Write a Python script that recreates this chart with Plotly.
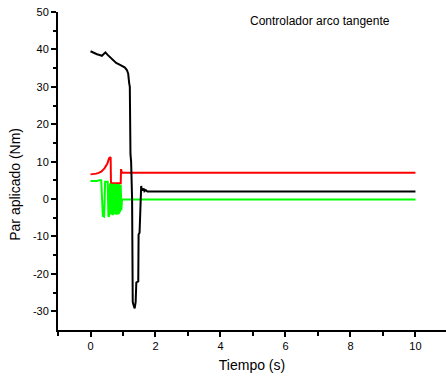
import plotly.graph_objects as go

# Black: applied torque (Nm)
t_black = [0, 0.1, 0.2, 0.28, 0.35, 0.4, 0.46, 0.52, 0.59, 0.65, 0.72, 0.79, 0.88, 0.95, 1.05,
           1.12, 1.16, 1.19, 1.21, 1.23, 1.25, 1.28, 1.30, 1.33, 1.36, 1.39, 1.41, 1.47,
           1.48, 1.51, 1.53, 1.56, 1.58, 1.6, 1.62, 1.64, 1.66, 1.7, 1.75, 10]
y_black = [39.5, 39.0, 38.7, 38.5, 38.3, 38.7, 39.2, 38.6, 38.0, 37.5, 37.0, 36.4, 36.0, 35.6, 35.2,
           34.5, 33.5, 31.0, 30.0, 12.0, 10.0, 0.0, -27.5, -28.5, -29.2, -27.5, -22.3, -22.0,
           -9.5, -9.0, 0.0, 3.5, 2.4, 2.9, 2.2, 2.8, 2.1, 2.4, 2.0, 2.0]

# Red
t_red = [0, 0.12, 0.18, 0.25, 0.33, 0.43, 0.52, 0.57, 0.6, 0.62, 0.63, 0.93, 0.94, 0.97, 10]
y_red = [6.6, 6.6, 6.8, 7.0, 7.3, 8.2, 9.5, 10.9, 11.2, 11.2, 4.2, 4.2, 8.0, 7.0, 7.0]

# Green
t_green = [0, 0.2, 0.28, 0.33, 0.38, 0.42, 0.45, 0.53, 0.55, 0.57, 0.6, 0.61, 0.63, 0.64, 0.66,
           0.67, 0.69, 0.7, 0.72, 0.73, 0.75, 0.76, 0.78, 0.79, 0.81, 0.82, 0.84, 0.85, 0.87,
           0.88, 0.9, 0.91, 0.93, 0.95, 0.97, 10]
y_green = [4.8, 4.8, 5.1, 5.0, -4.5, -4.7, 4.6, 4.6, -4.5, -4.7, 4.2, -4.0, 4.0, -4.2, 4.1,
           -3.8, 4.0, -4.3, 3.9, -3.7, 4.1, -4.0, 3.8, -4.2, 4.0, -3.6, 3.9, -4.1, 4.0,
           -3.9, 3.7, -3.5, 3.8, -3.0, -0.1, -0.1]

x_ticks = [0, 2, 4, 6, 8, 10]
x_labels = ["0", "2", "4", "6", "8", "10"]
y_ticks = [-30, -20, -10, 0, 10, 20, 30, 40, 50]
y_labels = ["-30", "-20", "-10", "0", "10", "20", "30", "40", "50"]

FONT = "Liberation Sans, Arial, sans-serif"

fig = go.Figure()
fig.add_trace(go.Scatter(x=t_red, y=y_red, mode="lines", line=dict(color="#ff0000", width=2), showlegend=False))
fig.add_trace(go.Scatter(x=t_green, y=y_green, mode="lines", line=dict(color="#00ff00", width=2), showlegend=False))
fig.add_trace(go.Scatter(x=t_black, y=y_black, mode="lines", line=dict(color="#000000", width=2), showlegend=False))

fig.update_layout(
    width=446, height=378,
    margin=dict(l=58, r=0, t=12, b=48),
    paper_bgcolor="white", plot_bgcolor="white",
    font=dict(family=FONT, color="black", size=11),
    xaxis=dict(
        range=[-1, 10.94], tickvals=x_ticks, ticktext=x_labels,
        ticks="outside", ticklen=5, tickwidth=2, tickcolor="black",
        showline=True, linecolor="black", linewidth=2, showgrid=False, zeroline=False,
        minor=dict(ticks="outside", tickvals=[-1, 1, 3, 5, 7, 9], ticklen=4, tickwidth=2, tickcolor="black"),
        title=dict(text="Tiempo (s)", font=dict(size=14, family=FONT), standoff=9),
        tickfont=dict(size=11, family=FONT),
    ),
    yaxis=dict(
        range=[-35, 50], tickvals=y_ticks, ticktext=y_labels,
        ticks="outside", ticklen=5, tickwidth=2, tickcolor="black",
        showline=True, linecolor="black", linewidth=2, showgrid=False, zeroline=False,
        minor=dict(ticks="outside", tickvals=[-25, -15, -5, 5, 15, 25, 35, 45], ticklen=3, tickwidth=2, tickcolor="black"),
        tickfont=dict(size=11, family=FONT),
    ),
    annotations=[
        dict(text="Controlador arco tangente", x=0.675, y=1.0, xref="paper", yref="paper",
             xanchor="center", yanchor="top", showarrow=False,
             font=dict(size=12, family=FONT)),
        dict(text="Par aplicado (Nm)", x=(15 - 58) / 388, y=(330.4 - 185) / 318.4,
             xref="paper", yref="paper", xanchor="center", yanchor="middle",
             textangle=-90, showarrow=False, font=dict(size=14, family=FONT)),
    ],
)

fig.write_html("out.html")
